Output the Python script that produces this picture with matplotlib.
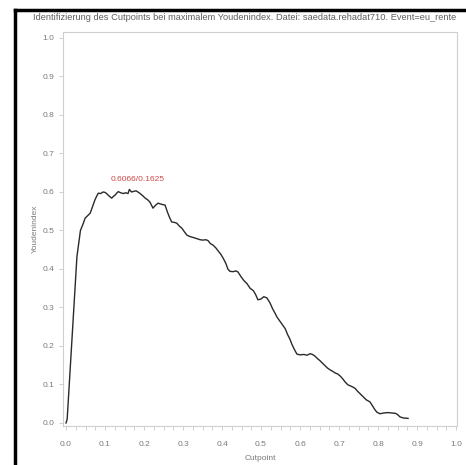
"""Youden index versus cutpoint, redrawn from a SAS plot."""
import matplotlib
matplotlib.use("Agg")
import matplotlib.pyplot as plt
from matplotlib.lines import Line2D
from matplotlib.ticker import MultipleLocator

TITLE = ("Identifizierung des Cutpoints bei maximalem Youdenindex. "
         "Datei: saedata.rehadat710. Event=eu_rente")

cutpoint = [
    0.0, 0.003, 0.028, 0.033, 0.037, 0.043, 0.049, 0.055, 0.062, 0.068,
    0.074, 0.079, 0.083, 0.089, 0.095, 0.100, 0.104, 0.110, 0.117, 0.122,
    0.126, 0.130, 0.134, 0.140, 0.147, 0.153, 0.159, 0.1625, 0.168, 0.175,
    0.180, 0.190, 0.197, 0.203, 0.209, 0.215, 0.223, 0.229, 0.236, 0.245,
    0.254, 0.260, 0.265, 0.271, 0.278, 0.284, 0.290, 0.297, 0.304, 0.310,
    0.316, 0.322, 0.329, 0.335, 0.344, 0.351, 0.358, 0.364, 0.370, 0.377,
    0.384, 0.390, 0.397, 0.403, 0.410, 0.415, 0.420, 0.428, 0.436, 0.441,
    0.448, 0.456, 0.464, 0.472, 0.480, 0.486, 0.492, 0.500, 0.507, 0.515,
    0.523, 0.530, 0.536, 0.541, 0.548, 0.555, 0.562, 0.568, 0.574, 0.579,
    0.585, 0.592, 0.600, 0.610, 0.618, 0.626, 0.632, 0.638, 0.645, 0.651,
    0.656, 0.663, 0.670, 0.677, 0.684, 0.690, 0.697, 0.703, 0.710, 0.716,
    0.723, 0.730, 0.736, 0.741, 0.748, 0.755, 0.762, 0.770, 0.779, 0.785,
    0.791, 0.797, 0.805, 0.815, 0.825, 0.835, 0.845, 0.850, 0.856, 0.865,
    0.877,
]
youden = [
    0.0, 0.010, 0.432, 0.470, 0.500, 0.515, 0.532, 0.538, 0.545, 0.562,
    0.579, 0.590, 0.597, 0.596, 0.600, 0.599, 0.596, 0.590, 0.584, 0.589,
    0.592, 0.597, 0.601, 0.598, 0.596, 0.598, 0.596, 0.6066, 0.600, 0.602,
    0.603, 0.596, 0.590, 0.584, 0.580, 0.574, 0.558, 0.565, 0.571, 0.568,
    0.566, 0.548, 0.535, 0.522, 0.521, 0.519, 0.512, 0.506, 0.496, 0.488,
    0.485, 0.483, 0.481, 0.479, 0.476, 0.475, 0.476, 0.474, 0.466, 0.462,
    0.455, 0.447, 0.438, 0.428, 0.414, 0.400, 0.394, 0.393, 0.395, 0.392,
    0.381, 0.370, 0.362, 0.350, 0.344, 0.334, 0.320, 0.322, 0.328, 0.325,
    0.312, 0.296, 0.285, 0.275, 0.265, 0.255, 0.245, 0.230, 0.218, 0.205,
    0.192, 0.179, 0.177, 0.178, 0.176, 0.180, 0.178, 0.174, 0.167, 0.162,
    0.157, 0.150, 0.143, 0.138, 0.134, 0.130, 0.127, 0.122, 0.114, 0.106,
    0.099, 0.096, 0.093, 0.090, 0.082, 0.075, 0.068, 0.060, 0.055, 0.046,
    0.036, 0.028, 0.024, 0.026, 0.027, 0.026, 0.025, 0.022, 0.016, 0.013,
    0.012,
]

plt.rcParams["font.family"] = ["Liberation Sans", "DejaVu Sans"]

fig = plt.figure(figsize=(4.66, 4.65), dpi=100)
ax = fig.add_axes([0.1352, 0.0839, 0.8455, 0.8473])

ax.plot(cutpoint, youden, color="#2a2a2a", linewidth=1.0)

# label the maximum
i_max = max(range(len(youden)), key=lambda i: youden[i])
ax.annotate(f"{youden[i_max]:.4f}/{cutpoint[i_max]:.4f}",
            (cutpoint[i_max], youden[i_max]), xytext=(6, 5),
            textcoords="offset points", ha="center", va="bottom",
            fontsize=6, color="#d04848")

ax.set_xlim(-0.0077, 1.0025)
ax.set_ylim(-0.0078, 1.0156)
ax.xaxis.set_major_locator(MultipleLocator(0.1))
ax.xaxis.set_minor_locator(MultipleLocator(0.025))
ax.yaxis.set_major_locator(MultipleLocator(0.1))
ax.xaxis.set_major_formatter(lambda v, p: f"{v:.1f}")
ax.yaxis.set_major_formatter(lambda v, p: f"{v:.1f}")

grey = "#cfcfcf"
for s in ax.spines.values():
    s.set_color(grey)
    s.set_linewidth(0.8)
ax.tick_params(which="both", colors=grey, labelcolor="#7a7a7a",
               labelsize=6, length=3, width=0.7)
ax.tick_params(axis="x", pad=8)
ax.tick_params(axis="y", pad=3)

ax.set_xlabel("Cutpoint", fontsize=6, color="#7a7a7a", labelpad=5)
ax.set_ylabel("Youdenindex", fontsize=6, color="#7a7a7a", labelpad=3)
fig.text(244.5 / 466, 1 - 18 / 465, TITLE, fontsize=6.7, color="#606060",
         ha="center", va="center")

# black page border on the left and top
fig.add_artist(Line2D([15 / 466, 15 / 466], [0, 1 - 10 / 465],
                      color="black", linewidth=2.5))
fig.add_artist(Line2D([15 / 466, 1], [1 - 10 / 465, 1 - 10 / 465],
                      color="black", linewidth=2.5))

fig.savefig("out.png", dpi=100)
